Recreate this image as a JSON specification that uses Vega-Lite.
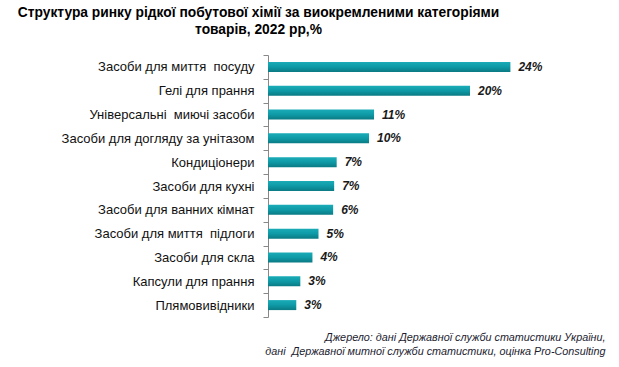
{
  "$schema": "https://vega.github.io/schema/vega-lite/v6.json",
  "autosize": "none",
  "width": 303,
  "height": 262,
  "padding": {"left": 268, "top": 55, "right": 48, "bottom": 50},
  "background": "white",
  "title": {
    "text": ["Структура ринку рідкої побутової хімії за виокремленими категоріями", "товарів, 2022 рр,%"],
    "font": "Liberation Sans",
    "fontSize": 13.8,
    "fontWeight": "bold",
    "color": "#000000",
    "anchor": "middle",
    "frame": "group",
    "dx": -161,
    "offset": 12,
    "lineHeight": 17.5
  },
  "data": {
    "values": [
      {"category": "Засоби для миття\u00a0 посуду", "value": 24.0, "label": "24%"},
      {"category": "Гелі для прання", "value": 20.0, "label": "20%"},
      {"category": "Універсальні\u00a0 миючі засоби", "value": 10.5, "label": "11%"},
      {"category": "Засоби для догляду за унітазом", "value": 10.0, "label": "10%"},
      {"category": "Кондиціонери", "value": 6.8, "label": "7%"},
      {"category": "Засоби для кухні", "value": 6.55, "label": "7%"},
      {"category": "Засоби для ванних кімнат", "value": 6.45, "label": "6%"},
      {"category": "Засоби для миття\u00a0 підлоги", "value": 5.0, "label": "5%"},
      {"category": "Засоби для скла", "value": 4.4, "label": "4%"},
      {"category": "Капсули для прання", "value": 3.2, "label": "3%"},
      {"category": "Плямовивідники", "value": 2.8, "label": "3%"}
    ]
  },
  "encoding": {
    "y": {
      "field": "category",
      "type": "nominal",
      "sort": null,
      "scale": {"paddingInner": 0, "paddingOuter": 0},
      "axis": {
        "title": null,
        "tickBand": "extent",
        "tickSize": 5,
        "tickColor": "#888888",
        "domainColor": "#888888",
        "labelFont": "Liberation Sans",
        "labelFontSize": 13,
        "labelColor": "#111111",
        "labelPadding": 9,
        "labelLimit": 300
      }
    },
    "x": {
      "field": "value",
      "type": "quantitative",
      "scale": {"domain": [0, 30], "nice": false},
      "axis": {
        "labels": false,
        "ticks": false,
        "domain": false,
        "grid": false,
        "title": ["Джерело: дані Державної служби статистики України,", "дані\u00a0 Державної митної служби статистики, оцінка Pro-Consulting"],
        "titleFont": "Liberation Sans",
        "titleFontSize": 10.8,
        "titleFontStyle": "italic",
        "titleFontWeight": "normal",
        "titleColor": "#1c1c30",
        "titleAlign": "right",
        "titleBaseline": "top",
        "titleX": 337,
        "titleY": 14,
        "titleLineHeight": 14.5
      }
    }
  },
  "layer": [
    {
      "mark": {
        "type": "bar",
        "height": {"band": 0.42},
        "color": {
          "gradient": "linear",
          "x1": 0, "y1": 0, "x2": 0, "y2": 1,
          "stops": [
            {"offset": 0, "color": "#1aacb8"},
            {"offset": 0.5, "color": "#0e9aa6"},
            {"offset": 1, "color": "#0a7a84"}
          ]
        }
      }
    },
    {
      "mark": {
        "type": "text",
        "align": "left",
        "baseline": "middle",
        "dx": 8,
        "font": "Liberation Sans",
        "fontSize": 12,
        "fontWeight": "bold",
        "fontStyle": "italic",
        "color": "#1a1a1a"
      },
      "encoding": {"text": {"field": "label"}}
    }
  ],
  "config": {"view": {"stroke": null}}
}
